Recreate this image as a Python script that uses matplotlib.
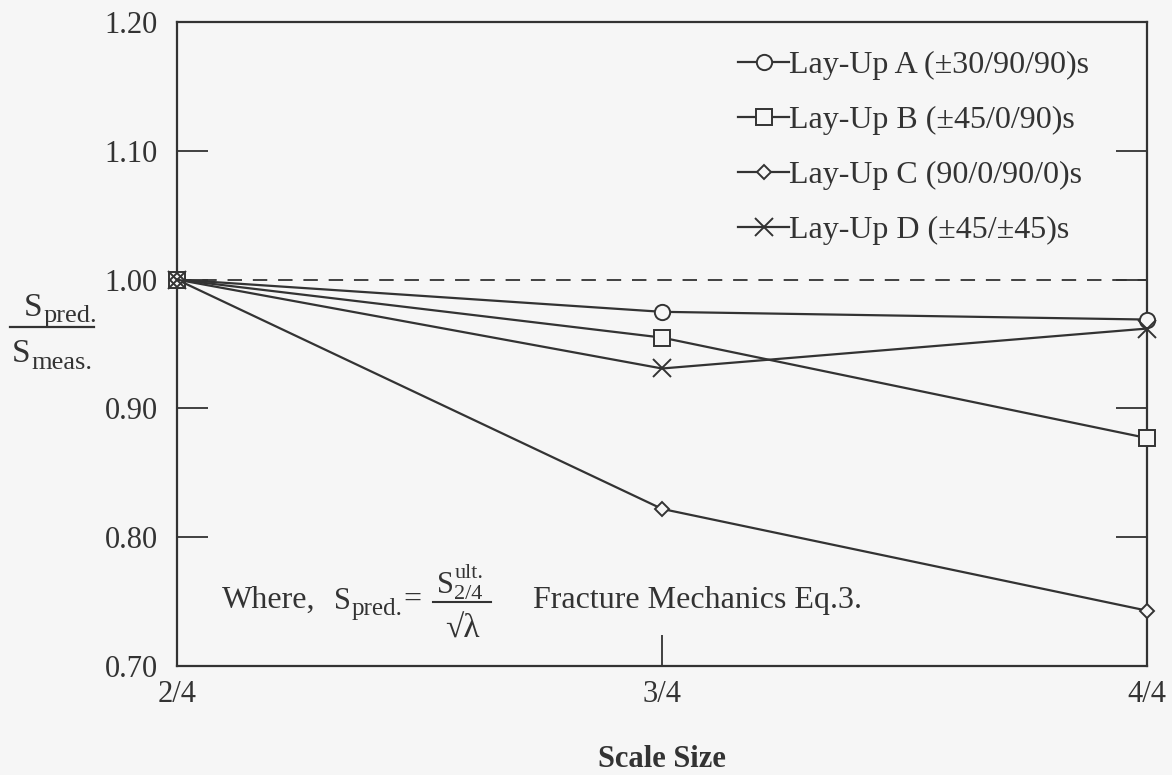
import matplotlib
matplotlib.use("Agg")
import matplotlib.pyplot as plt
from matplotlib.lines import Line2D

plt.rcParams['font.family'] = ['Liberation Serif', 'DejaVu Serif']

x_labels = ['2/4', '3/4', '4/4']
layup_a = [1.000, 0.975, 0.969]
layup_b = [1.000, 0.955, 0.877]
layup_c = [1.000, 0.822, 0.743]
layup_d = [1.000, 0.931, 0.962]
series_names = ['Lay-Up A (±30/90/90)s', 'Lay-Up B (±45/0/90)s',
                'Lay-Up C (90/0/90/0)s', 'Lay-Up D (±45/±45)s']
markers = ['o', 's', 'D', 'x']
y_ticks = [0.70, 0.80, 0.90, 1.00, 1.10, 1.20]

W, H = 1172, 775
bg = '#f6f6f6'
ink = '#333333'
fig = plt.figure(figsize=(W / 100, H / 100), dpi=100, facecolor=bg)
ax = fig.add_axes([0.151, 0.1406, 0.8277, 0.831])
ax.set_facecolor(bg)
renderer = fig.canvas.get_renderer()


def ftext(x, y, s, fs, **kw):
    t = fig.text(x / W, 1 - y / H, s, fontsize=fs, color=ink,
                 va=kw.pop('va', 'baseline'), **kw)
    return t


def right_edge(t):
    return t.get_window_extent(renderer=renderer).x1


xs = list(range(len(x_labels)))
ax.axhline(1.0, color=ink, lw=1.3, ls=(0, (8, 6)), zorder=1)
for vals, name, m in zip([layup_a, layup_b, layup_c, layup_d], series_names, markers):
    ms = {'o': 11, 's': 11, 'D': 7.5, 'x': 13}[m]
    ax.plot(xs, vals, color=ink, lw=1.6, marker=m, ms=ms, mfc=bg, mec=ink, mew=1.4,
            label=name, zorder=3, clip_on=False)

ax.set_xlim(0, 2)
ax.set_ylim(0.70, 1.20)
ax.set_xticks(xs)
ax.set_xticklabels(x_labels)
ax.set_yticks(y_ticks)
ax.set_yticklabels([f'{v:.2f}' for v in y_ticks])
ax.tick_params(axis='both', direction='in', length=22, width=1.3, color=ink,
               labelsize=22, labelcolor=ink, right=True, top=False)
ax.tick_params(axis='y', pad=14)
ax.tick_params(axis='x', pad=10)
for s in ax.spines.values():
    s.set_color(ink)
    s.set_linewidth(1.6)

ax.set_xlabel('Scale Size', fontsize=22, fontweight='bold', color=ink, labelpad=26)

leg = ax.legend(loc='upper right', bbox_to_anchor=(0.970, 1.0), frameon=False,
                fontsize=23, handlelength=1.6, handletextpad=0.0, labelspacing=0.8,
                labelcolor=ink)

# y-axis fraction label
t = ftext(24, 316, 'S', 24)
ftext(right_edge(t) + 0.5, 322, 'pred.', 19)
fig.add_artist(Line2D([10 / W, 94 / W], [1 - 327 / H, 1 - 327 / H], color=ink, lw=1.6))
t = ftext(12, 362, 'S', 24)
ftext(right_edge(t) + 0.5, 369, 'meas.', 19)

# equation note
ftext(222, 608, 'Where,', 23)
t = ftext(334, 609, 'S', 22)
t2 = ftext(right_edge(t) + 0.5, 615, 'pred.', 18)
ftext(right_edge(t2) + 1, 608, '=', 23)
t = ftext(437, 593, 'S', 22)
ftext(right_edge(t) + 0.5, 578, 'ult.', 16)
ftext(right_edge(t) + 0.5, 599, '2/4', 16)
fig.add_artist(Line2D([433 / W, 491 / W], [1 - 602 / H, 1 - 602 / H], color=ink, lw=1.5))
ftext(462, 638, '√λ', 24, ha='center')
ftext(533, 608, 'Fracture Mechanics Eq.3.', 23)

fig.savefig('out.png', dpi=100, facecolor=bg)
